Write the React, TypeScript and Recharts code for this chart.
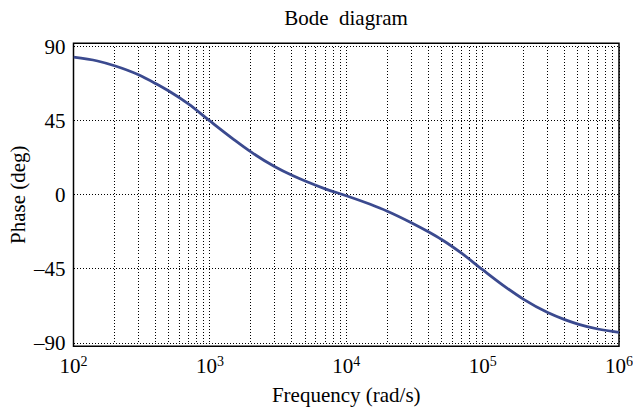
import { LineChart, Line, XAxis, YAxis, CartesianGrid, ReferenceArea } from 'recharts';

// frequency (rad/s) and phase (deg)
const freq = [
    100, 150, 200, 300, 400, 500, 700, 1000, 1500, 2000, 3000, 4000, 5000, 7000,
    10000, 15000, 20000, 30000, 40000, 50000, 70000, 100000, 150000, 200000,
    300000, 400000, 500000, 700000, 1000000,
];
const phase = [
    83.5, 81.2, 78.3, 72.8, 67.5, 63, 55, 44.8, 33.5, 26, 17, 11.8, 8.3, 3.6,
    -0.6, -5.8, -10, -17, -22.5, -27.2, -35.5, -45.5, -56.5, -63.5,
    -71.5, -75.8, -78.5, -81.5, -83.5,
];

const decades = [100, 1000, 10000, 100000, 1000000];
const phaseTicks = [-90, -45, 0, 45, 90];

const gridTicks = decades
    .slice(0, -1)
    .flatMap((d) => [1, 2, 3, 4, 5, 6, 7, 8, 9].map((k) => k * d))
    .concat(decades[decades.length - 1]);

const data = freq.map((f, i) => ({ f, phase: phase[i] }));

const FONT = '"Liberation Serif", "Times New Roman", serif';
const LINE_COLOR = '#3b4a8f';

function DecadeTick({ x, y, payload }: any) {
    const e = Math.log10(payload.value);
    if (Math.abs(e - Math.round(e)) > 1e-9) return null;
    return (
        <text x={x} y={y} dy={22} textAnchor="middle" fontFamily={FONT} fontSize={21} fill="#000">
            10
            <tspan fontSize={14} dy={-7}>
                {Math.round(e)}
            </tspan>
        </text>
    );
}

function PhaseTick({ x, y, payload }: any) {
    const v = payload.value;
    const txt = v < 0 ? `\u2013${Math.abs(v)}` : `${v}`;
    return (
        <text x={x} y={y} dy={7} textAnchor="end" fontFamily={FONT} fontSize={21} fill="#000">
            {txt}
        </text>
    );
}

function YLabel({ viewBox }: any) {
    const cx = 18;
    const cy = viewBox.y + viewBox.height / 2;
    return (
        <text
            x={cx}
            y={cy}
            transform={`rotate(-90 ${cx} ${cy})`}
            textAnchor="middle"
            dominantBaseline="central"
            fontFamily={FONT}
            fontSize={21}
            fill="#000"
        >
            Phase (deg)
        </text>
    );
}

function XLabel({ viewBox }: any) {
    return (
        <text
            x={viewBox.x + viewBox.width / 2}
            y={402}
            textAnchor="middle"
            fontFamily={FONT}
            fontSize={21}
            fill="#000"
        >
            Frequency (rad/s)
        </text>
    );
}

export default function App() {
    return (
        <div
            style={{
                position: 'absolute',
                left: 0,
                top: 0,
                width: 633,
                height: 407,
                background: '#fff',
                fontFamily: FONT,
            }}
        >
            <div
                style={{
                    position: 'absolute',
                    left: 246,
                    top: 8,
                    width: 200,
                    textAlign: 'center',
                    fontSize: 21,
                    lineHeight: '21px',
                    whiteSpace: 'pre',
                    color: '#000',
                }}
            >
                Bode  diagram
            </div>
            <LineChart
                width={633}
                height={407}
                data={data}
                margin={{ top: 46.5, right: 14, bottom: 0, left: 0 }}
            >
                <CartesianGrid
                    stroke="#000"
                    strokeDasharray="1 2"
                    strokeWidth={1}
                    shapeRendering="crispEdges"
                />
                <XAxis
                    dataKey="f"
                    type="number"
                    scale="log"
                    domain={[100, 1000000]}
                    ticks={gridTicks}
                    interval={0}
                    allowDataOverflow
                    height={64}
                    tick={<DecadeTick />}
                    tickLine={false}
                    axisLine={false}
                    label={<XLabel />}
                />
                <YAxis
                    type="number"
                    domain={[-90, 90]}
                    ticks={phaseTicks}
                    interval={0}
                    width={73.5}
                    tick={<PhaseTick />}
                    tickLine={false}
                    axisLine={false}
                    label={<YLabel />}
                />
                <Line
                    dataKey="phase"
                    type="monotone"
                    stroke={LINE_COLOR}
                    strokeWidth={2.8}
                    dot={false}
                    isAnimationActive={false}
                />
                <ReferenceArea
                    x1={100}
                    x2={1000000}
                    y1={-92}
                    y2={92}
                    ifOverflow="visible"
                    fill="none"
                    stroke="#000"
                    strokeWidth={1.5}
                />
            </LineChart>
        </div>
    );
}
